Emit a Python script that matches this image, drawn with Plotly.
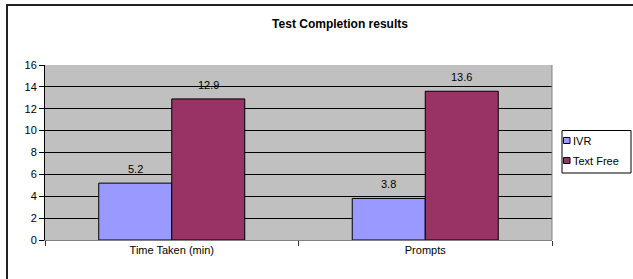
import plotly.graph_objects as go

categories = ["Time Taken (min)", "Prompts"]
ivr_values = [5.2, 3.8]
textfree_values = [12.9, 13.6]
series_names = ["IVR", "Text Free"]
series_colors = ["#9999FF", "#993366"]
y_ticks = [0, 2, 4, 6, 8, 10, 12, 14, 16]

W, H = 633, 279
L, R, T, B = 45, 81, 65, 39
pw, ph = W - L - R, H - T - B

def px_x(p):
    return (p - L) / pw

def px_y(p):
    return (H - B - p) / ph

fig = go.Figure()
annotations = []
bar_half = 36.5
for k, (name, vals, col) in enumerate(zip(series_names, [ivr_values, textfree_values], series_colors)):
    fig.add_trace(go.Bar(
        x=categories, y=vals, name=name,
        marker=dict(color=col, line=dict(color="#000000", width=1)),
        showlegend=False, hoverinfo="skip",
    ))
    for c, v in zip(categories, vals):
        annotations.append(dict(text=f"{v:.1f}", x=c, y=v, xref="x", yref="y",
                                xshift=(-bar_half if k == 0 else bar_half), yshift=6,
                                yanchor="bottom", xanchor="center", showarrow=False,
                                font=dict(family="Arial", size=11, color="#000000")))

shapes = [
    dict(type="line", xref="paper", yref="paper", x0=1, x1=1, y0=0, y1=1,
         line=dict(color="#808080", width=1)),
    dict(type="line", xref="paper", yref="paper",
         x0=px_x(6), x1=px_x(640), y0=px_y(5), y1=px_y(5),
         line=dict(color="#222222", width=2)),
    dict(type="line", xref="paper", yref="paper",
         x0=px_x(7), x1=px_x(7), y0=px_y(4), y1=px_y(285),
         line=dict(color="#222222", width=2)),
    dict(type="rect", xref="paper", yref="paper",
         x0=px_x(562), x1=px_x(631), y0=px_y(173), y1=px_y(130.5),
         line=dict(color="#000000", width=1), fillcolor="#FFFFFF"),
]
for i, (name, col) in enumerate(zip(series_names, series_colors)):
    cy = 140.5 + 20 * i
    shapes.append(dict(type="rect", xref="paper", yref="paper",
                       x0=px_x(563.5), x1=px_x(570), y0=px_y(cy + 3), y1=px_y(cy - 3),
                       line=dict(color="#000000", width=1), fillcolor=col))
    annotations.append(dict(text=name, xref="paper", yref="paper",
                            x=px_x(571), y=px_y(cy), xanchor="left", yanchor="middle",
                            showarrow=False,
                            font=dict(family="Arial", size=11, color="#000000")))

fig.update_layout(
    width=W, height=H,
    margin=dict(l=L, r=R, t=T, b=B, pad=0, autoexpand=False),
    paper_bgcolor="#FFFFFF", plot_bgcolor="#C0C0C0",
    barmode="group", bargap=0.424, bargroupgap=0,
    font=dict(family="Arial", size=11, color="#000000"),
    title=dict(text="<b>Test Completion results</b>", x=340 / W,
               xanchor="center", y=1 - 24 / H, yanchor="middle",
               font=dict(family="Arial", size=12, color="#000000")),
    showlegend=False,
    xaxis=dict(showgrid=False, showline=True, linecolor="#808080", linewidth=1,
               ticks="outside", tickson="boundaries", ticklen=5, tickcolor="#333333",
               tickfont=dict(family="Arial", size=11), zeroline=False),
    yaxis=dict(range=[0, 16], tickvals=y_ticks, showgrid=True, gridcolor="#000000",
               gridwidth=1, showline=True, linecolor="#000000", linewidth=1,
               ticks="outside", ticklen=5, tickcolor="#000000",
               tickfont=dict(family="Arial", size=11), zeroline=False),
    shapes=shapes,
    annotations=annotations,
)

fig.write_html("out.html", config={"displayModeBar": False},
               post_script="document.body.style.margin='0';document.body.style.overflow='hidden';")
